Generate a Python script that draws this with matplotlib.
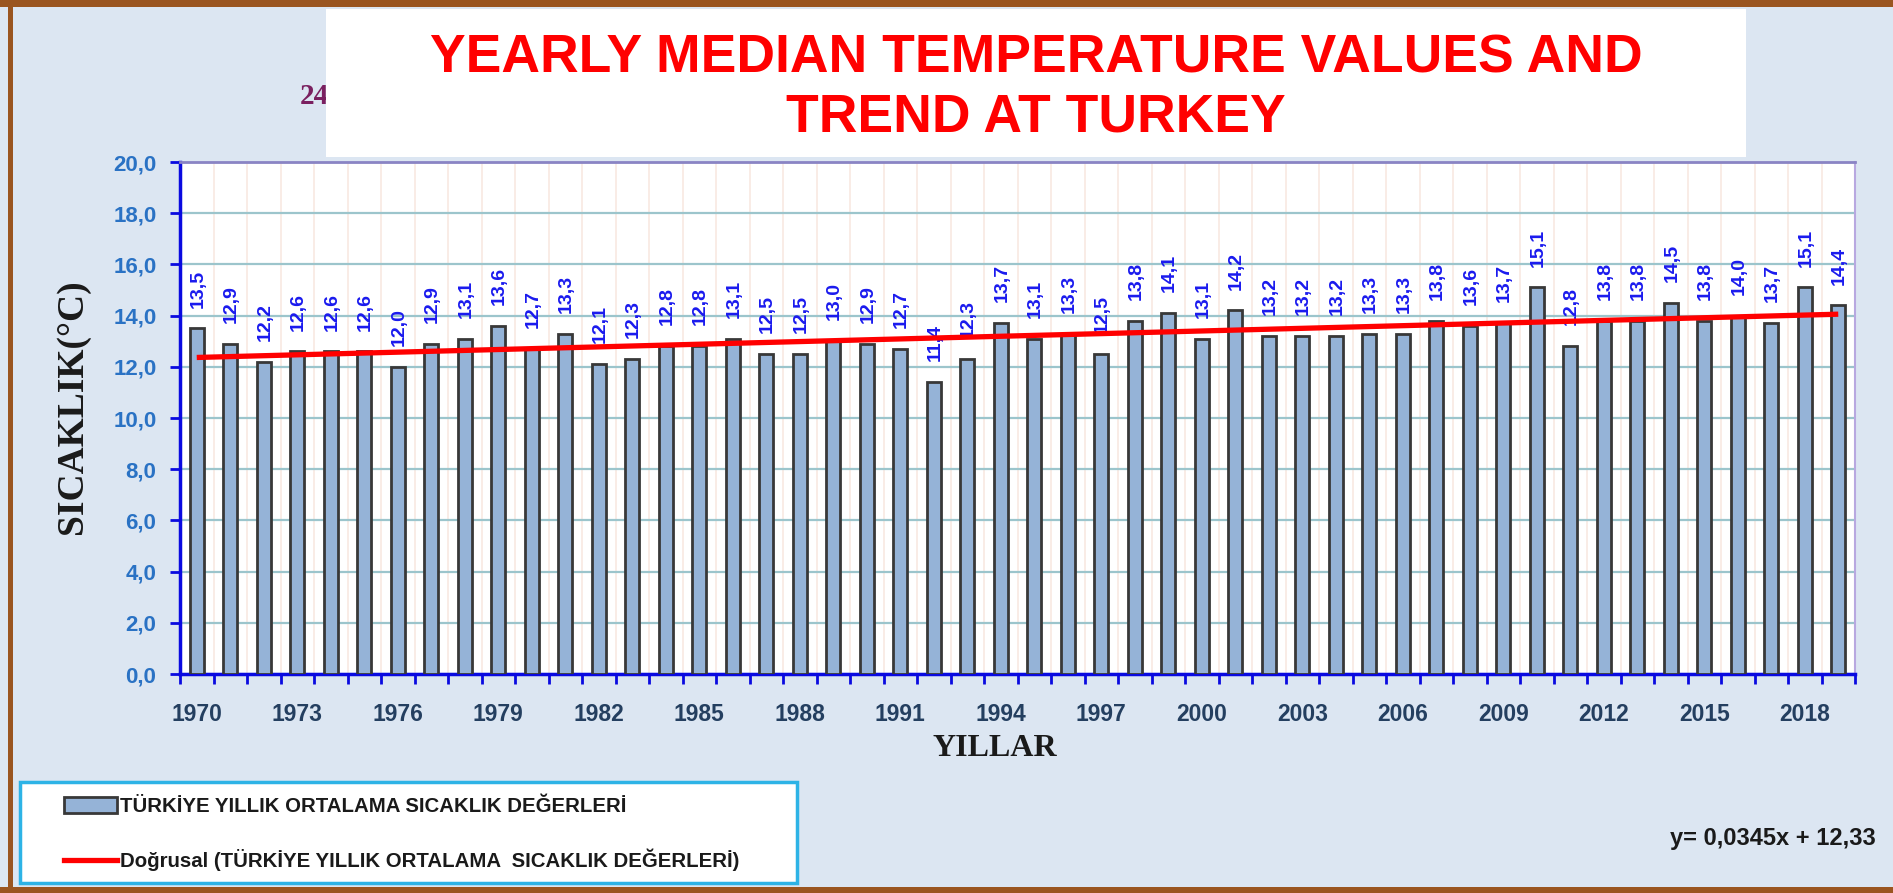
import numpy as np
import matplotlib
matplotlib.use("Agg")
import matplotlib.pyplot as plt
from matplotlib.patches import Rectangle, Patch
from matplotlib.lines import Line2D

# yearly mean temperature of Turkey
years = list(range(1970, 2020))
temps = [13.5, 12.9, 12.2, 12.6, 12.6, 12.6, 12.0, 12.9, 13.1, 13.6,
         12.7, 13.3, 12.1, 12.3, 12.8, 12.8, 13.1, 12.5, 12.5, 13.0,
         12.9, 12.7, 11.4, 12.3, 13.7, 13.1, 13.3, 12.5, 13.8, 14.1,
         13.1, 14.2, 13.2, 13.2, 13.2, 13.3, 13.3, 13.8, 13.6, 13.7,
         15.1, 12.8, 13.8, 13.8, 14.5, 13.8, 14.0, 13.7, 15.1, 14.4]
trend_slope = 0.0345
trend_intercept = 12.33
y_ticks = [0, 2, 4, 6, 8, 10, 12, 14, 16, 18, 20]

title = "YEARLY MEDIAN TEMPERATURE VALUES AND\nTREND AT TURKEY"
bar_label = "TÜRKİYE YILLIK ORTALAMA SICAKLIK DEĞERLERİ"
line_label = "Doğrusal (TÜRKİYE YILLIK ORTALAMA  SICAKLIK DEĞERLERİ)"
equation = "y= 0,0345x + 12,33"

W, H = 1893, 893
SANS = "Liberation Sans"
SERIF = "Liberation Serif"


def fx(px):
    return px / W


def fy(py):
    return 1 - py / H


def comma(v):
    return f"{v:.1f}".replace(".", ",")


fig = plt.figure(figsize=(W / 100, H / 100), dpi=100, facecolor="#dce6f2")

# brown frame
brown = "#9a5520"
for (x0, y0, x1, y1) in [(0, 0, W, 7), (8, 0, 13, H), (0, 887, W, H)]:
    fig.patches.append(Rectangle((fx(x0), fy(y1)), fx(x1) - fx(x0), fy(y0) - fy(y1),
                                 transform=fig.transFigure, facecolor=brown,
                                 edgecolor="none", zorder=5))

# partly hidden subtitle behind the white title box
fig.text(fx(300), fy(97), "24", ha="left", va="center", fontsize=21,
         fontweight="bold", family=SERIF, color="#7a2060", zorder=1)
fig.patches.append(Rectangle((fx(326), fy(157)), fx(1746) - fx(326), fy(9) - fy(157),
                             transform=fig.transFigure, facecolor="white",
                             edgecolor="none", zorder=2))
fig.text(fx(1036), fy(88), title, ha="center", va="center", fontsize=38.5,
         fontweight="bold", family=SANS, color="#ff0000",
         linespacing=1.22, zorder=3)

ax = fig.add_axes([fx(180), fy(674), fx(1855) - fx(180), fy(162) - fy(674)])
ax.set_facecolor("white")
x = np.arange(len(years))
ax.bar(x, temps, width=0.42, color="#95b3d7", edgecolor="#383838",
       linewidth=2, zorder=3)
trend = trend_intercept + trend_slope * (x + 1)
ax.plot(x, trend, color="#ff0000", lw=3.8, zorder=6, solid_capstyle="butt")

for xi, v in zip(x, temps):
    ax.annotate(comma(v), (xi, v), xytext=(1, 15), textcoords="offset points",
                rotation=90, ha="center", va="bottom", color="#1a1aee",
                fontsize=14, fontweight="bold", family=SANS, zorder=5)

ax.set_xlim(-0.5, len(years) - 0.5)
ax.set_ylim(0, 20)
ax.set_yticks(y_ticks)
ax.set_yticklabels([comma(t) for t in y_ticks], fontsize=16, fontweight="bold",
                   family=SANS, color="#2a72c4")
ax.set_xticks(x[::3])
ax.set_xticklabels([str(y) for y in years[::3]], fontsize=16.5, fontweight="bold",
                   family=SANS, color="#243f60")
ax.set_xticks(np.arange(-0.5, len(years), 1), minor=True)
ax.tick_params(axis="x", which="major", length=0, pad=21)
ax.tick_params(axis="x", which="minor", length=7, width=2, color="#0a0ae0",
               direction="out")
ax.tick_params(axis="y", length=7, width=2, color="#0a0ae0", direction="out",
               pad=10)

ax.set_axisbelow(True)
ax.yaxis.grid(True, color="#9cc5cc", lw=1.6)
ax.xaxis.grid(True, which="minor", color="#f8e9e2", lw=1.2)
ax.xaxis.grid(False, which="major")

for side in ["left", "bottom"]:
    ax.spines[side].set_color("#0a0ae0")
    ax.spines[side].set_linewidth(2.5)
ax.spines["top"].set_color("#8a84c4")
ax.spines["top"].set_linewidth(2)
ax.spines["right"].set_color("#b8a8e0")
ax.spines["right"].set_linewidth(1.5)

fig.text(fx(72), fy(407), "SICAKLIK(°C)", rotation=90, ha="center", va="center",
         fontsize=27, fontweight="bold", family=SERIF, color="#1a1a1a")
fig.text(fx(995), fy(748), "YILLAR", ha="center", va="center", fontsize=23,
         fontweight="bold", family=SERIF, color="#1a1a1a")

# legend box
fig.patches.append(Rectangle((fx(20), fy(883)), fx(797) - fx(20), fy(782) - fy(883),
                             transform=fig.transFigure, facecolor="white",
                             edgecolor="#2db3e6", lw=2.5, zorder=2))
handles = [Patch(facecolor="#95b3d7", edgecolor="#383838", lw=2),
           Line2D([], [], color="#ff0000", lw=3.8)]
leg = fig.legend(handles, [bar_label, line_label], loc="upper left",
                 bbox_to_anchor=(fx(64), fy(797)), frameon=False,
                 prop={"family": SANS, "weight": "bold", "size": 14.7},
                 handlelength=2.6, handleheight=0.85, handletextpad=0.15,
                 labelspacing=1.6, borderpad=0, borderaxespad=0)
leg.set_zorder(3)
for t in leg.get_texts():
    t.set_color("#1a1a1a")

fig.text(fx(1876), fy(838), equation, ha="right", va="center", fontsize=17,
         fontweight="bold", family=SANS, color="#1a1a1a")

fig.savefig("out.png", dpi=100, facecolor=fig.get_facecolor())
